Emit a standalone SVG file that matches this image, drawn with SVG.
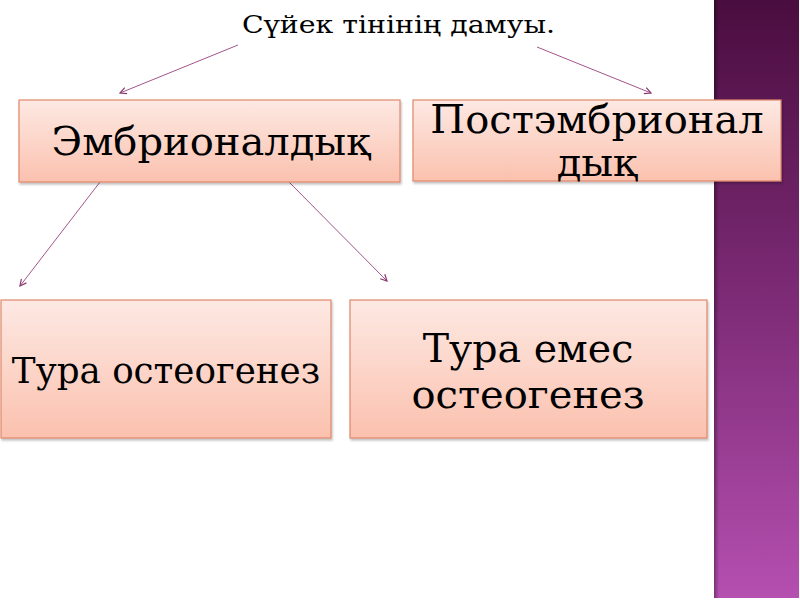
<svg xmlns="http://www.w3.org/2000/svg" width="800" height="600" viewBox="0 0 800 600">
<defs>
<linearGradient id="box" x1="0" y1="0" x2="0" y2="1">
<stop offset="0" stop-color="#fde9e3"/>
<stop offset="1" stop-color="#fbc1ae"/>
</linearGradient>
<linearGradient id="band" x1="0" y1="0" x2="0" y2="1">
<stop offset="0" stop-color="#4a0d3f"/>
<stop offset="0.5" stop-color="#7d2b76"/>
<stop offset="1" stop-color="#b54fb0"/>
</linearGradient>
<linearGradient id="bandEdge" x1="0" y1="0" x2="1" y2="0">
<stop offset="0" stop-color="#000" stop-opacity="0.35"/>
<stop offset="1" stop-color="#000" stop-opacity="0"/>
</linearGradient>
<marker id="arr" viewBox="0 0 10 10" refX="9" refY="5" markerWidth="8" markerHeight="8" orient="auto" markerUnits="userSpaceOnUse">
<path d="M1,1 L9,5 L1,9" fill="none" stroke="#8a3a6c" stroke-width="1.5"/>
</marker>
<filter id="sh" x="-5%" y="-5%" width="110%" height="115%">
<feDropShadow dx="1" dy="2" stdDeviation="1.2" flood-color="#000" flood-opacity="0.25"/>
</filter>
</defs>
<style>
.bx{fill:url(#box);stroke:#e0886c;stroke-width:1.2;filter:url(#sh)}
.t{font-family:"DejaVu Serif","Liberation Serif",serif;fill:#000;text-anchor:middle}
.c{fill:none;stroke:#a3548c;stroke-width:1;marker-end:url(#arr)}
</style>
<rect x="0" y="0" width="800" height="600" fill="#fff"/>
<g id="band-deco">
<rect x="714" y="0" width="85" height="598" fill="url(#band)"/>
<rect x="714" y="0" width="5" height="598" fill="url(#bandEdge)"/>
</g>
<g id="title">
<text x="242" y="33" font-size="23.5" font-family="DejaVu Serif, Liberation Serif, serif" textLength="313" lengthAdjust="spacingAndGlyphs">Сүйек тінінің дамуы.</text>
</g>
<g id="connectors">
<line class="c" x1="238" y1="45" x2="120" y2="93"/>
<line class="c" x1="537" y1="47" x2="651" y2="93"/>
<line class="c" x1="100" y1="182" x2="20" y2="286"/>
<line class="c" x1="289" y1="182" x2="387" y2="281"/>
</g>
<g id="embryonal">
<rect class="bx" x="19" y="100" width="381" height="82"/>
<text class="t" x="211" y="155" font-size="40">Эмбрионалдық</text>
</g>
<g id="postembryonal">
<rect class="bx" x="413" y="100" width="368" height="81"/>
<text class="t" x="597" y="133" font-size="40">Постэмбрионал</text>
<text class="t" x="597" y="176" font-size="40">дық</text>
</g>
<g id="direct">
<rect class="bx" x="1" y="300" width="330" height="138"/>
<text class="t" x="166" y="383" font-size="35.7">Тура остеогенез</text>
</g>
<g id="indirect">
<rect class="bx" x="350" y="300" width="357" height="138"/>
<text class="t" x="528" y="362" font-size="39.5">Тура емес</text>
<text class="t" x="528" y="408" font-size="40">остеогенез</text>
</g>
</svg>
